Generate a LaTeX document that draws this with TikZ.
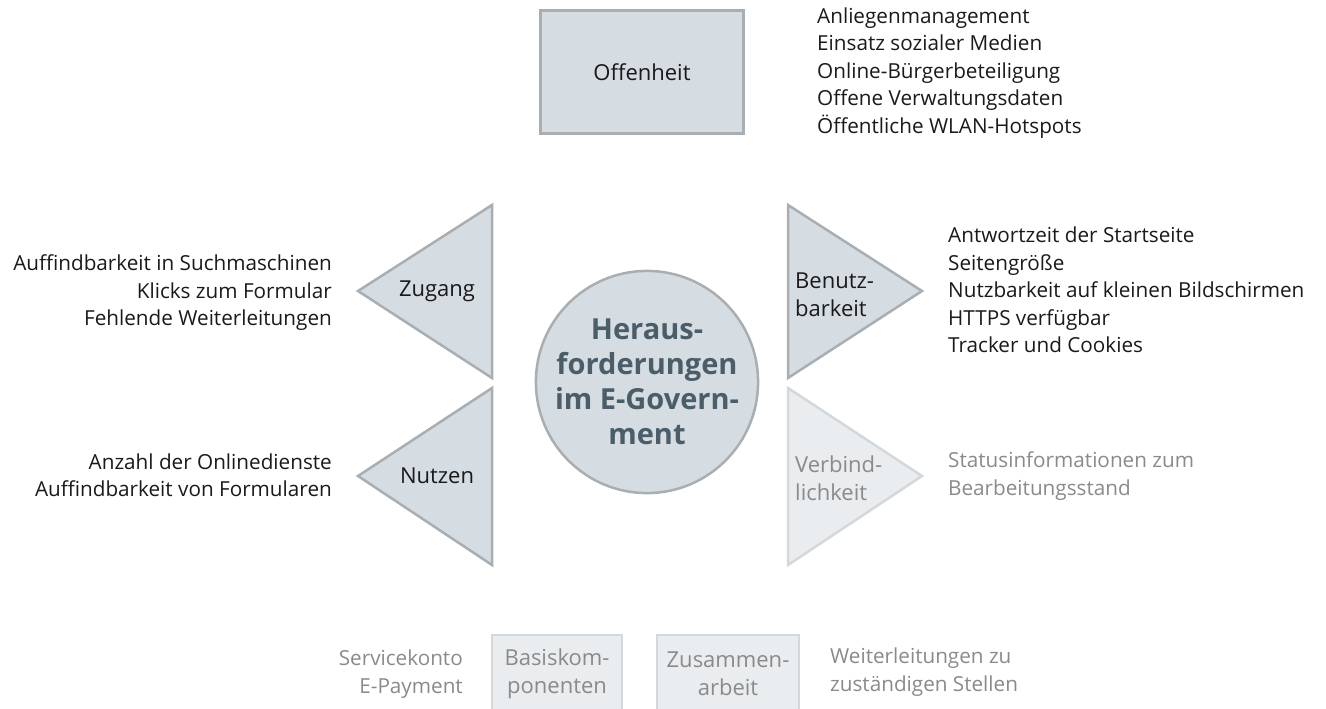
\documentclass[tikz,border=0pt]{standalone}
\usepackage{fontspec}
\setmainfont{Open Sans}
\usepackage{xcolor}
\usetikzlibrary{positioning}
\definecolor{boxfill}{HTML}{D5DCE2}
\definecolor{boxline}{HTML}{A9AEB2}
\definecolor{palefill}{HTML}{E9EDF0}
\definecolor{paleline}{HTML}{D4D8DB}
\definecolor{paletext}{HTML}{8A8A8A}
\definecolor{hubtext}{HTML}{4B5D68}
\definecolor{listtext}{HTML}{1A1A1A}
\tikzset{
  fullshape/.style={fill=boxfill, draw=boxline, line width=2.5pt, line join=miter},
  paleshape/.style={fill=palefill, draw=paleline, line width=2.5pt, line join=miter},
  lbl/.style={font=\fontsize{20.7}{27.5}\selectfont, inner sep=0pt, text=listtext},
  shapelbl/.style={lbl, font=\fontsize{22}{28}\selectfont},
  palelbl/.style={lbl, text=paletext},
  items/.style={lbl, align=left, anchor=west},
  itemsleft/.style={lbl, align=right, anchor=east},
}
\begin{document}
\begin{tikzpicture}[x=1pt, y=-1pt]
\useasboundingbox (0,0) rectangle (1326,709);
% top box
\node[fullshape, minimum width=203pt, minimum height=123pt, shapelbl] (offenheit) at (642,72) {Offenheit};
\node[items] (offenheitlist) at (817,73) {Anliegenmanagement\\Einsatz sozialer Medien\\Online-Bürgerbeteiligung\\Offene Verwaltungsdaten\\Öffentliche WLAN-Hotspots};
% centre
\node[circle, fullshape, minimum size=212pt, inner sep=0pt, align=center, text=hubtext,
  font=\fontsize{29}{35}\selectfont\bfseries] (hub) at (647,382) {Heraus-\\forderungen\\im E-Govern-\\ment};
% left triangles
\draw[fullshape] (492,205) coordinate (zugangA) -- (492,378) -- (358,291) -- cycle;
\node[shapelbl] (zugang) at (437,291) {Zugang};
\node[itemsleft] (zuganglist) at (332,293) {Auffindbarkeit in Suchmaschinen\\Klicks zum Formular\\Fehlende Weiterleitungen};
\draw[fullshape] (492,388) coordinate (nutzenA) -- (492,565) -- (358,476) -- cycle;
\node[shapelbl] (nutzen) at (437,476) {Nutzen};
\node[itemsleft] (nutzenlist) at (332,475) {Anzahl der Onlinedienste\\Auffindbarkeit von Formularen};
% right triangles
\draw[fullshape] (788,205) coordinate (benutzA) -- (788,378) -- (922,291) -- cycle;
\node[shapelbl, align=left, anchor=west] (benutz) at (795,295) {Benutz-\\barkeit};
\node[items] (benutzlist) at (948,290) {Antwortzeit der Startseite\\Seitengröße\\Nutzbarkeit auf kleinen Bildschirmen\\HTTPS verfügbar\\Tracker und Cookies};
\draw[paleshape] (788,388) coordinate (verbindA) -- (788,565) -- (922,476) -- cycle;
\node[shapelbl, text=paletext, align=left, anchor=west] (verbind) at (795,478) {Verbind-\\lichkeit};
\node[palelbl, align=left, anchor=west] (verbindlist) at (948,476) {Statusinformationen zum\\Bearbeitungsstand};
% bottom boxes
\draw[paleshape] (492,635) rectangle (622,725);
\node[shapelbl, text=paletext, align=center] (basis) at (557,674) {Basiskom-\\ponenten};
\node[palelbl, align=right, anchor=east] (basislist) at (463,674) {Servicekonto\\E-Payment};
\draw[paleshape] (657,635) rectangle (799,725);
\node[shapelbl, text=paletext, align=center] (zusammen) at (728,674) {Zusammen-\\arbeit};
\node[palelbl, align=left, anchor=west] (zusammenlist) at (830,672) {Weiterleitungen zu\\zuständigen Stellen};
\end{tikzpicture}
\end{document}
